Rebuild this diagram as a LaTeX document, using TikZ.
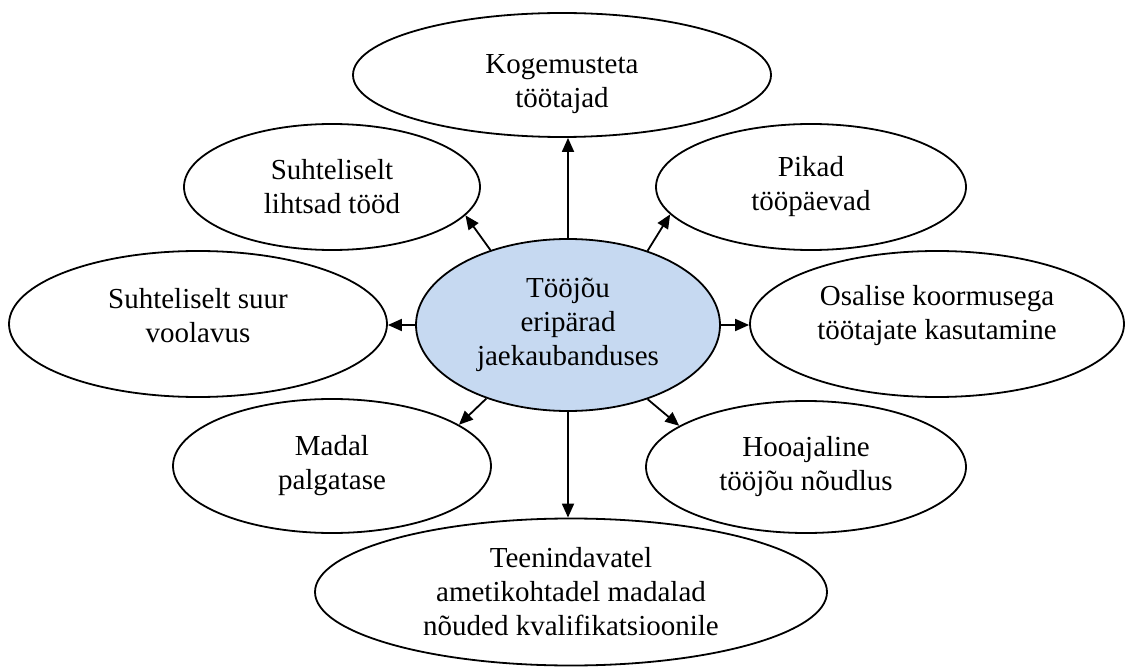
\documentclass[tikz,border=0pt]{standalone}
\usepackage{fontspec}
\setmainfont{Liberation Serif}
\usetikzlibrary{shapes.geometric,arrows.meta}
\definecolor{hubfill}{RGB}{198,217,241}
\begin{document}
\begin{tikzpicture}[x=1pt,y=-1pt,
  bub/.style={ellipse,draw=black,line width=1.8pt,fill=white,inner sep=0pt,align=center,font=\fontsize{29}{34}\selectfont},
  conn/.style={line width=1.8pt,-{Triangle[length=14pt,width=12pt]}}]
\useasboundingbox (0,0) rectangle (1127,668);
\node[bub,fill=hubfill,minimum width=304pt,minimum height=172pt] (c) at (568,325) {Tööjõu\\eripärad\\jaekaubanduses};
\node[bub,minimum width=418pt,minimum height=124pt,text height=71pt] (top) at (562,75) {Kogemusteta\\töötajad};
\node[bub,minimum width=296pt,minimum height=126pt] (tl) at (332,187) {Suhteliselt\\lihtsad tööd};
\node[bub,minimum width=310pt,minimum height=126pt] (tr) at (811,187) {Pikad\\tööpäevad};
\node[bub,minimum width=378pt,minimum height=146pt,text depth=18pt] (le) at (198,324) {Suhteliselt suur\\voolavus};
\node[bub,minimum width=374pt,minimum height=146pt,text depth=24pt] (ri) at (937,324) {Osalise koormusega\\töötajate kasutamine};
\node[bub,minimum width=318pt,minimum height=134pt] (bl) at (332,466) {Madal\\palgatase};
\node[bub,minimum width=320pt,minimum height=132pt] (br) at (806,467) {Hooajaline\\tööjõu nõudlus};
\node[bub,minimum width=512pt,minimum height=147pt] (bo) at (571,592) {Teenindavatel\\ametikohtadel madalad\\nõuded kvalifikatsioonile};
\draw[conn] (c.north) -- (c.north |- top.south);
\draw[conn] (c.south) -- (c.south |- bo.north);
\draw[conn] (c.west) -- (c.west -| le.east);
\draw[conn] (c.east) -- (c.east -| ri.west);
\draw[conn] (c.136.5) -- (tl.-12);
\draw[conn] (c.43) -- (tr.191.8);
\draw[conn] (c.222.4) -- (bl.18.7);
\draw[conn] (c.-43.5) -- (br.162.4);
\end{tikzpicture}
\end{document}
